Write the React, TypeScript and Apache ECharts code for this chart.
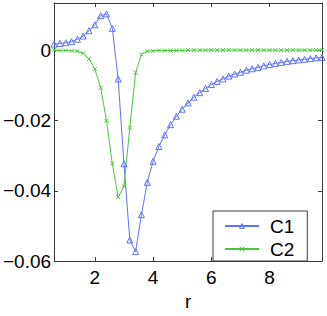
import React, { useEffect, useRef } from "react";
import * as echarts from "echarts";

const rValues = [
  0.6, 0.8, 1.0, 1.2, 1.4, 1.6, 1.8, 2.0, 2.2, 2.4, 2.6, 2.8, 3.0, 3.2, 3.4, 3.6,
  3.8, 4.0, 4.2, 4.4, 4.6, 4.8, 5.0, 5.2, 5.4, 5.6, 5.8, 6.0, 6.2, 6.4, 6.6, 6.8,
  7.0, 7.2, 7.4, 7.6, 7.8, 8.0, 8.2, 8.4, 8.6, 8.8, 9.0, 9.2, 9.4, 9.6, 9.8,
];

const c1Values = [
  0.0017, 0.0019, 0.0021, 0.0024, 0.0031, 0.004, 0.0055, 0.0072, 0.0098, 0.0103,
  0.0062, -0.0082, -0.0323, -0.054, -0.0573, -0.0468, -0.0376, -0.0316, -0.0274,
  -0.0241, -0.0212, -0.0188, -0.0168, -0.015, -0.0134, -0.0121, -0.0109, -0.0098,
  -0.0089, -0.0082, -0.0074, -0.0068, -0.0063, -0.0057, -0.0053, -0.0049, -0.0045,
  -0.0041, -0.0038, -0.0035, -0.0032, -0.003, -0.0028, -0.0026, -0.0024, -0.0022,
  -0.0021,
];

const c2Values = [
  0.0, -0.0001, -0.0001, -0.0002, -0.0003, -0.0009, -0.0025, -0.0054, -0.0107,
  -0.0201, -0.0323, -0.0418, -0.0387, -0.0221, -0.0064, -0.0012, -0.0003, -0.0002,
  -0.0001, -0.0001, -0.0001, -0.0001, -0.0001, 0.0, 0.0, 0.0, 0.0, 0.0, 0.0, 0.0,
  0.0, 0.0, 0.0, 0.0, 0.0, 0.0, 0.0, 0.0, 0.0, 0.0, 0.0, 0.0, 0.0, 0.0, 0.0, 0.0,
  0.0,
];

const seriesNames = ["C1", "C2"];
const xTicks = [2, 4, 6, 8];
const yTicks = [-0.06, -0.04, -0.02, 0];
const xLabel = "r";

const BLUE = "#5f72ff";
const GREEN = "#4cc640";
const AXIS = "#3a3a3a";
const FONT = "Liberation Sans, Arial, Helvetica, sans-serif";
const FS = 19;

const fmtY = (v: number) => (Math.abs(v) < 1e-9 ? "0" : (v < 0 ? "\u2212" : "") + Math.abs(v).toFixed(2));

export default function App() {
  const ref = useRef<HTMLDivElement>(null);
  useEffect(() => {
    if (!ref.current) return;
    const chart = echarts.init(ref.current, null, { renderer: "svg" });
    const xBase = {
      type: "value" as const,
      min: 0.6,
      max: 9.8,
      splitLine: { show: false },
      axisLine: { show: true, onZero: false, lineStyle: { color: AXIS, width: 1 } },
    };
    const yBase = {
      type: "value" as const,
      min: -0.06,
      max: 0.0134,
      splitLine: { show: false },
      axisLine: { show: true, onZero: false, lineStyle: { color: AXIS, width: 1 } },
    };
    chart.setOption({
      animation: false,
      backgroundColor: "#fff",
      textStyle: { fontFamily: FONT },
      grid: { left: 53, right: 5, top: 3, bottom: 45, containLabel: false },
      xAxis: [
        {
          ...xBase,
          position: "bottom",
          name: xLabel,
          nameLocation: "middle",
          nameGap: 21,
          nameTextStyle: { color: "#000", fontSize: FS, fontFamily: FONT },
          axisTick: { show: true, inside: true, length: 4, customValues: xTicks, lineStyle: { color: AXIS } },
          axisLabel: {
            show: true,
            customValues: xTicks,
            color: "#000",
            fontSize: FS,
            fontFamily: FONT,
            margin: 7,
            formatter: (v: number) => String(v),
          },
        },
        {
          ...xBase,
          position: "top",
          axisTick: { show: true, inside: true, length: 4, customValues: xTicks, lineStyle: { color: AXIS } },
          axisLabel: { show: false },
        },
      ],
      yAxis: [
        {
          ...yBase,
          position: "left",
          axisTick: { show: true, inside: true, length: 4, customValues: yTicks, lineStyle: { color: AXIS } },
          axisLabel: {
            show: true,
            customValues: yTicks,
            color: "#000",
            fontSize: FS,
            fontFamily: FONT,
            margin: 3,
            formatter: fmtY,
          },
        },
        {
          ...yBase,
          position: "right",
          axisTick: { show: true, inside: true, length: 4, customValues: yTicks, lineStyle: { color: AXIS } },
          axisLabel: { show: false },
        },
      ],
      legend: {
        show: true,
        orient: "vertical",
        left: 213,
        top: 211,
        width: 93,
        padding: [5, 13, 2, 11],
        itemGap: 3,
        itemWidth: 34,
        itemHeight: 6,
        backgroundColor: "#fff",
        borderColor: AXIS,
        borderWidth: 1,
        borderRadius: 0,
        itemStyle: { color: "rgba(0,0,0,0)", borderColor: "inherit", borderWidth: 1 },
        textStyle: { color: "#000", fontSize: FS, fontFamily: FONT, lineHeight: 20, padding: [0, 0, 0, 6] },
        data: seriesNames,
      },
      series: [
        {
          name: seriesNames[0],
          type: "line",
          xAxisIndex: 0,
          yAxisIndex: 0,
          data: rValues.map((r, i) => [r, c1Values[i]]),
          symbol: "triangle",
          symbolSize: 6,
          showAllSymbol: true,
          lineStyle: { color: BLUE, width: 1 },
          itemStyle: { color: "rgba(0,0,0,0)", borderColor: BLUE, borderWidth: 1 },
          emphasis: { disabled: true },
        },
        {
          name: seriesNames[1],
          type: "line",
          xAxisIndex: 0,
          yAxisIndex: 0,
          data: rValues.map((r, i) => [r, c2Values[i]]),
          symbol: "path://M0,0L10,10M10,0L0,10",
          symbolSize: 4,
          showAllSymbol: true,
          lineStyle: { color: GREEN, width: 1 },
          itemStyle: { color: "none", borderColor: GREEN, borderWidth: 1 },
          emphasis: { disabled: true },
        },
      ],
    });
    return () => chart.dispose();
  }, []);
  return (
    <div
      ref={ref}
      style={{ position: "absolute", left: 0, top: 0, width: 327, height: 316 }}
    />
  );
}
